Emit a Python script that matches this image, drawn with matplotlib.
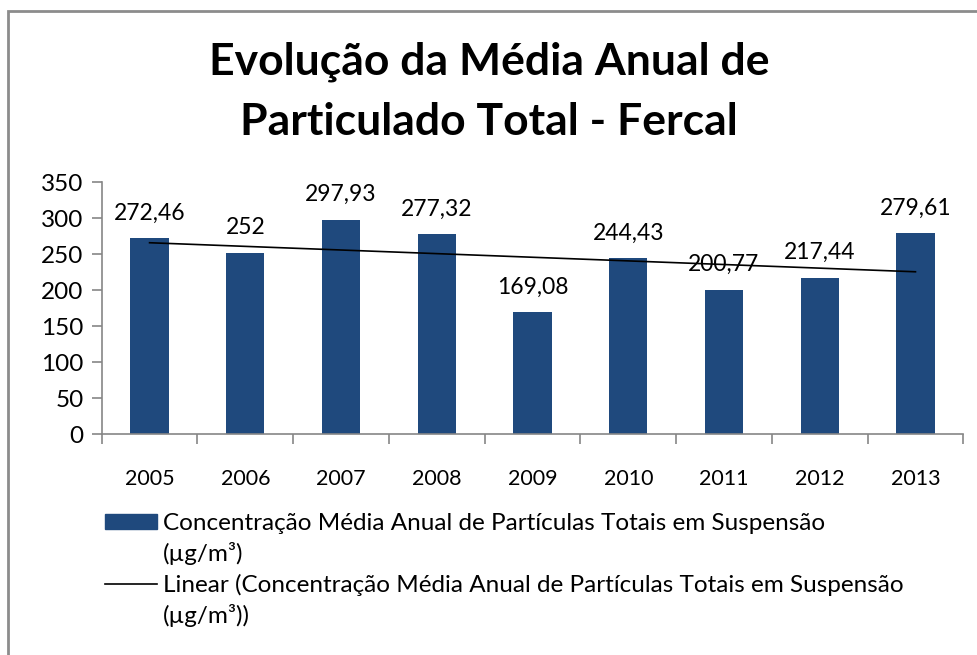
import numpy as np
import matplotlib.pyplot as plt
from matplotlib.patches import Patch, Rectangle
from matplotlib.lines import Line2D

plt.rcParams['font.family'] = ['Lato', 'DejaVu Sans']

# Dados
anos = ["2005", "2006", "2007", "2008", "2009", "2010", "2011", "2012", "2013"]
valores = [272.46, 252, 297.93, 277.32, 169.08, 244.43, 200.77, 217.44, 279.61]
rotulos = ["272,46", "252", "297,93", "277,32", "169,08", "244,43", "200,77", "217,44", "279,61"]

cor_barra = "#1F497D"
cor_eixo = "#868686"

fig = plt.figure(figsize=(9.78, 6.55), dpi=100, facecolor="white")
ax = fig.add_axes([0.104, 0.337, 0.881, 0.385])

x = np.arange(len(anos))
ax.bar(x, valores, width=0.4, color=cor_barra, zorder=2)

# Linha de tendência linear
coef = np.polyfit(x, valores, 1)
ax.plot(x, np.polyval(coef, x), color="black", lw=1.2, zorder=3)

# Rótulos de dados
for xi, v, r in zip(x, valores, rotulos):
    ax.text(xi, v + 20, r, ha="center", va="bottom", fontsize=16.5, zorder=4)

ax.set_xlim(-0.5, len(anos) - 0.5)
ax.set_ylim(0, 350)
ax.set_yticks(range(0, 351, 50))
ax.set_xticks(x)
ax.set_xticklabels(anos)
ax.set_xticks(np.arange(-0.5, len(anos), 1), minor=True)
ax.tick_params(axis="x", which="major", length=0, pad=25, labelsize=15.5)
ax.tick_params(axis="x", which="minor", length=7, color=cor_eixo, width=1.2)
ax.tick_params(axis="y", length=7, color=cor_eixo, width=1.2, labelsize=17.5, pad=6)

for lado in ["top", "right"]:
    ax.spines[lado].set_visible(False)
for lado in ["left", "bottom"]:
    ax.spines[lado].set_color(cor_eixo)
    ax.spines[lado].set_linewidth(1.2)

# Título
fig.text(0.5, 0.86, "Evolução da Média Anual de\nParticulado Total - Fercal",
         ha="center", va="center", fontsize=32, fontweight="bold",
         linespacing=1.6)

# Legenda
vazio = Line2D([], [], color="none")
handles = [Patch(color=cor_barra), vazio, Line2D([], [], color="black", lw=1.2), vazio]
labels = ["Concentração Média Anual de Partículas Totais em Suspensão",
          "(µg/m³)",
          "Linear (Concentração Média Anual de Partículas Totais em Suspensão",
          "(µg/m³))"]
fig.legend(handles, labels, loc="upper left", bbox_to_anchor=(0.107, 0.217),
           frameon=False, fontsize=17.5, handlelength=2.15, handleheight=0.6,
           handletextpad=0.25, labelspacing=0.35, borderaxespad=0, borderpad=0)

# Moldura
fig.patches.append(Rectangle((0.008, -0.05), 1.1, 1.033, transform=fig.transFigure,
                             fill=False, edgecolor="#8C8C8C", lw=2))

fig.savefig("out.png", dpi=100, facecolor="white")
